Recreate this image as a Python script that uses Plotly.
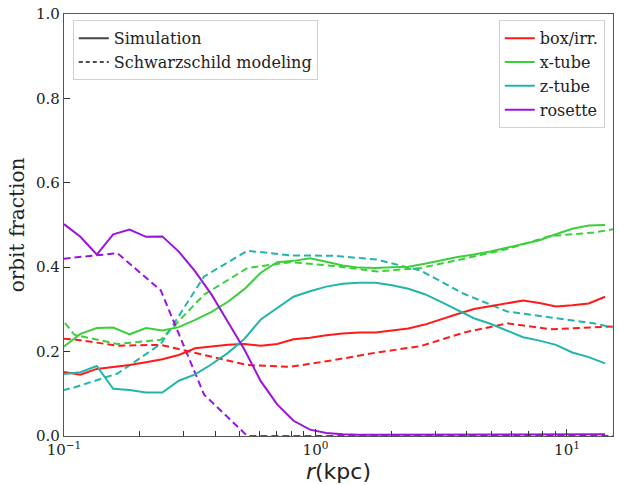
import plotly.graph_objects as go

# Simulation (solid) radial grid, kpc
r_sim = [0.100, 0.1162, 0.1350, 0.1569, 0.1823, 0.2118, 0.2461, 0.2860, 0.3323, 0.3862,
         0.4487, 0.5214, 0.6059, 0.7040, 0.8180, 0.9506, 1.1046, 1.2835, 1.4914, 1.7330,
         2.0137, 2.340, 2.719, 3.159, 3.671, 4.266, 4.957, 5.760, 6.693, 7.777,
         9.036, 10.50, 12.20, 14.18]

box_sim = [0.152, 0.145, 0.159, 0.163, 0.168, 0.175, 0.182, 0.192, 0.208, 0.212,
           0.216, 0.218, 0.214, 0.218, 0.229, 0.233, 0.239, 0.243, 0.245, 0.245,
           0.250, 0.255, 0.264, 0.277, 0.289, 0.301, 0.308, 0.315, 0.321, 0.315,
           0.307, 0.310, 0.314, 0.330]
xtube_sim = [0.212, 0.242, 0.256, 0.257, 0.241, 0.256, 0.250, 0.258, 0.275, 0.294,
             0.318, 0.348, 0.387, 0.412, 0.415, 0.421, 0.413, 0.404, 0.399, 0.398,
             0.400, 0.401, 0.408, 0.416, 0.424, 0.430, 0.437, 0.446, 0.455, 0.464,
             0.478, 0.491, 0.499, 0.500]
ztube_sim = [0.147, 0.151, 0.166, 0.112, 0.109, 0.103, 0.103, 0.131, 0.146, 0.170,
             0.197, 0.230, 0.276, 0.304, 0.330, 0.343, 0.354, 0.361, 0.363, 0.363,
             0.357, 0.349, 0.336, 0.318, 0.299, 0.279, 0.266, 0.250, 0.234, 0.226,
             0.216, 0.198, 0.187, 0.172]
rosette_sim = [0.502, 0.472, 0.430, 0.478, 0.489, 0.472, 0.473, 0.437, 0.390, 0.335,
               0.270, 0.205, 0.130, 0.075, 0.036, 0.015, 0.007, 0.004, 0.003, 0.003,
               0.003, 0.003, 0.003, 0.003, 0.003, 0.003, 0.003, 0.003, 0.003, 0.003,
               0.003, 0.003, 0.003, 0.004]

# Schwarzschild modeling (dashed) radial grid, kpc
r_mod = [0.0738, 0.1098, 0.1632, 0.2426, 0.3606, 0.5360, 0.7967, 1.1848, 1.761, 2.617,
         3.891, 5.783, 8.60, 12.78, 19.0]
box_mod = [0.235, 0.229, 0.214, 0.216, 0.192, 0.168, 0.164, 0.180, 0.198, 0.213,
           0.245, 0.267, 0.253, 0.258, 0.262]
xtube_mod = [0.37, 0.240, 0.218, 0.228, 0.335, 0.398, 0.412, 0.403, 0.390, 0.398,
             0.420, 0.443, 0.474, 0.482, 0.500]
ztube_mod = [0.09, 0.115, 0.148, 0.218, 0.378, 0.439, 0.428, 0.427, 0.418, 0.392,
             0.337, 0.295, 0.281, 0.267, 0.245]
rosette_mod = [0.41, 0.423, 0.433, 0.345, 0.098, 0.0, 0.0, 0.0, 0.0, 0.0,
               0.0, 0.0, 0.0, 0.0, 0.0]

names = ["box/irr.", "x-tube", "z-tube", "rosette"]
colors = ["#ff1a1a", "#3ccf3c", "#22b5ab", "#9a14dc"]
sims = [box_sim, xtube_sim, ztube_sim, rosette_sim]
mods = [box_mod, xtube_mod, ztube_mod, rosette_mod]

# axis ticks
x_major = [0.1, 1, 10]
x_major_text = ["10<sup>\u22121</sup>", "10<sup>0</sup>", "10<sup>1</sup>"]
x_minor = [0.2, 0.3, 0.4, 0.5, 0.6, 0.7, 0.8, 0.9, 2, 3, 4, 5, 6, 7, 8, 9]

SERIF = "DejaVu Serif"
DASH = "7px,4px"

fig = go.Figure()
for name, c, ys, ym in zip(names, colors, sims, mods):
    fig.add_trace(go.Scatter(x=r_mod, y=ym, mode="lines", line=dict(color=c, width=2, dash=DASH),
                             showlegend=False, hoverinfo="skip"))
for name, c, ys in zip(names, colors, sims):
    fig.add_trace(go.Scatter(x=r_sim, y=ys, mode="lines", name=name, line=dict(color=c, width=2),
                             legend="legend2"))

# style legend
fig.add_trace(go.Scatter(x=[None], y=[None], mode="lines", name="Simulation",
                         line=dict(color="#444444", width=2), legend="legend"))
fig.add_trace(go.Scatter(x=[None], y=[None], mode="lines", name="Schwarzschild modeling",
                         line=dict(color="#111111", width=1.5, dash="4px,3px"), legend="legend"))

fig.update_layout(
    width=618, height=485,
    margin=dict(l=64, r=5, t=14, b=49),
    plot_bgcolor="white", paper_bgcolor="white",
    font=dict(family=SERIF, size=14, color="#222"),
    xaxis=dict(type="log", range=[-1, 1.183], showgrid=False, zeroline=False,
               showline=True, mirror=True, linecolor="#555", linewidth=1.2,
               ticks="inside", ticklen=7, tickcolor="#333",
               tickvals=x_major, ticktext=x_major_text,
               tickfont=dict(family=SERIF, size=15, color="#222"),
               minor=dict(ticks="inside", ticklen=5, tickcolor="#333", showgrid=False,
                          tickvals=x_minor),
               title=dict(text="<i>r</i>(kpc)", font=dict(family="DejaVu Sans", size=22, color="#222"),
                          standoff=0)),
    yaxis=dict(range=[0, 1], showgrid=False, zeroline=False,
               showline=True, mirror=True, linecolor="#555", linewidth=1.2,
               ticks="inside", ticklen=6, tickcolor="#333", dtick=0.2, tickformat=".1f",
               tickfont=dict(family=SERIF, size=15, color="#222"),
               title=dict(text="orbit fraction", font=dict(family=SERIF, size=20, color="#222"),
                          standoff=6)),
    legend=dict(x=0.016, y=0.985, xanchor="left", yanchor="top",
                bgcolor="rgba(255,255,255,0.85)", bordercolor="#d0d0d0", borderwidth=1,
                font=dict(family=SERIF, size=16, color="#222"), tracegroupgap=0),
    legend2=dict(x=0.985, y=0.985, xanchor="right", yanchor="top",
                 bgcolor="rgba(255,255,255,0.85)", bordercolor="#d0d0d0", borderwidth=1,
                 font=dict(family=SERIF, size=16, color="#222"), tracegroupgap=0),
)

fig.write_html("out.html")
